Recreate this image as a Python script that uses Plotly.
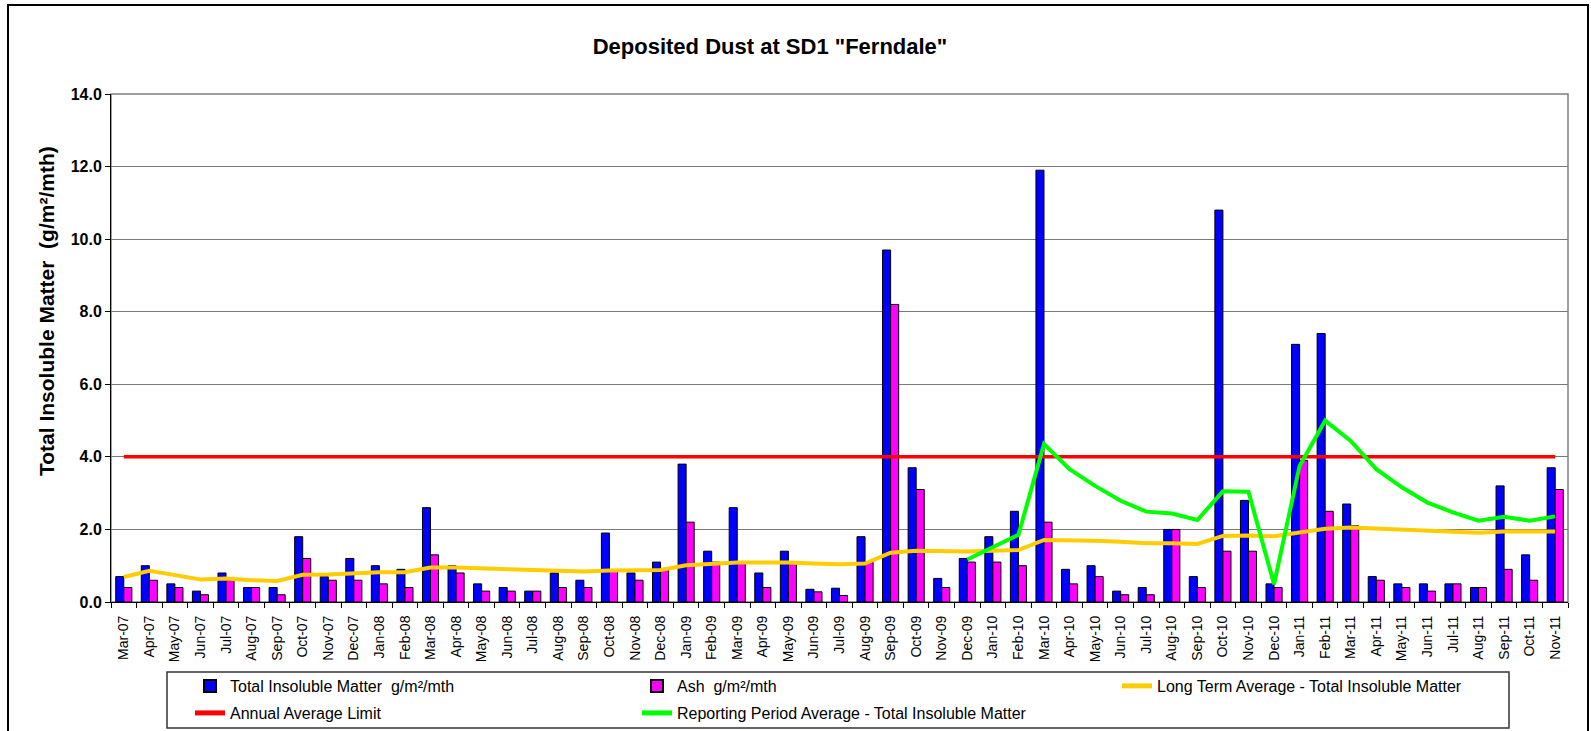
import plotly.graph_objects as go

months = ["Mar-07","Apr-07","May-07","Jun-07","Jul-07","Aug-07","Sep-07","Oct-07","Nov-07","Dec-07",
          "Jan-08","Feb-08","Mar-08","Apr-08","May-08","Jun-08","Jul-08","Aug-08","Sep-08","Oct-08","Nov-08","Dec-08",
          "Jan-09","Feb-09","Mar-09","Apr-09","May-09","Jun-09","Jul-09","Aug-09","Sep-09","Oct-09","Nov-09","Dec-09",
          "Jan-10","Feb-10","Mar-10","Apr-10","May-10","Jun-10","Jul-10","Aug-10","Sep-10","Oct-10","Nov-10","Dec-10",
          "Jan-11","Feb-11","Mar-11","Apr-11","May-11","Jun-11","Jul-11","Aug-11","Sep-11","Oct-11","Nov-11"]

total_insoluble = [0.7,1.0,0.5,0.3,0.8,0.4,0.4,1.8,0.7,1.2,
                   1.0,0.9,2.6,1.0,0.5,0.4,0.3,0.8,0.6,1.9,0.8,1.1,
                   3.8,1.4,2.6,0.8,1.4,0.35,0.38,1.8,9.7,3.7,0.65,1.2,
                   1.8,2.5,11.9,0.9,1.0,0.3,0.4,2.0,0.7,10.8,2.8,0.5,
                   7.1,7.4,2.7,0.7,0.5,0.5,0.5,0.4,3.2,1.3,3.7]

ash = [0.4,0.6,0.4,0.2,0.6,0.4,0.2,1.2,0.6,0.6,
       0.5,0.4,1.3,0.8,0.3,0.3,0.3,0.4,0.4,0.87,0.6,0.88,
       2.2,1.1,1.1,0.4,1.1,0.28,0.18,1.1,8.2,3.1,0.4,1.1,
       1.1,1.0,2.2,0.5,0.7,0.2,0.2,2.0,0.4,1.4,1.4,0.4,
       3.9,2.5,2.1,0.6,0.4,0.3,0.5,0.4,0.9,0.6,3.1]

long_term_avg = [0.69,0.86,0.74,0.62,0.65,0.6,0.58,0.75,0.76,0.8,
                 0.82,0.82,0.95,0.95,0.93,0.9,0.87,0.87,0.84,0.87,0.88,0.88,
                 1.01,1.04,1.09,1.09,1.09,1.06,1.04,1.06,1.36,1.41,1.39,1.39,
                 1.41,1.43,1.71,1.71,1.69,1.66,1.62,1.62,1.60,1.82,1.83,1.81,
                 1.91,2.02,2.05,2.02,2.0,1.97,1.94,1.91,1.94,1.93,1.94]

annual_limit = [4.0] * len(months)

reporting_months = ["Dec-09","Jan-10","Feb-10","Mar-10","Apr-10","May-10","Jun-10","Jul-10","Aug-10","Sep-10",
                    "Oct-10","Nov-10","Dec-10","Jan-11","Feb-11","Mar-11","Apr-11","May-11","Jun-11","Jul-11",
                    "Aug-11","Sep-11","Oct-11","Nov-11"]
reporting_avg = [1.17,1.5,1.85,4.35,3.66,3.2,2.79,2.49,2.44,2.26,
                 3.05,3.04,0.49,3.75,5.0,4.44,3.66,3.16,2.74,2.47,
                 2.24,2.35,2.24,2.36]

W, H = 1591, 731
L, R, T, B = 111, 1568, 94, 602
pw, ph = R - L, B - T


def px_x(v):
    return (v - L) / pw


def px_y(v):
    return (B - v) / ph


fig = go.Figure()
fig.add_trace(go.Bar(x=months, y=total_insoluble, name="Total Insoluble Matter\u00a0 g/m²/mth",
                     marker=dict(color="#0000FF", line=dict(color="#000000", width=1)), legend="legend"))
fig.add_trace(go.Bar(x=months, y=ash, name="Ash\u00a0 g/m²/mth",
                     marker=dict(color="#FF00FF", line=dict(color="#000000", width=1)), legend="legend2"))
fig.add_trace(go.Scatter(x=months, y=annual_limit, name="Annual Average Limit", mode="lines",
                         line=dict(color="#FF0000", width=3.5), legend="legend4"))
fig.add_trace(go.Scatter(x=months, y=long_term_avg, name="Long Term Average - Total Insoluble Matter",
                         mode="lines", line=dict(color="#FFCC00", width=4), legend="legend3"))
fig.add_trace(go.Scatter(x=reporting_months, y=reporting_avg,
                         name="Reporting Period Average - Total Insoluble Matter",
                         mode="lines", line=dict(color="#00FF00", width=4), legend="legend5"))


def leg(x_text, y_center):
    return dict(orientation="h", xref="container", yref="container", xanchor="left", yanchor="middle",
                x=(x_text - 41) / W, y=1 - y_center / H,
                borderwidth=0, bgcolor="rgba(0,0,0,0)", font=dict(size=16, color="black"),
                itemsizing="constant")


fig.update_layout(
    width=W, height=H,
    margin=dict(l=L, r=W - R, t=T, b=H - B, autoexpand=False),
    paper_bgcolor="white", plot_bgcolor="white",
    font=dict(family="Liberation Sans, Arial, sans-serif", color="black"),
    title=dict(text='<b>Deposited Dust at SD1 "Ferndale"</b>', x=770 / W, xref="container", xanchor="center",
               y=1 - 46 / H, yref="container", yanchor="middle", font=dict(size=22, color="black")),
    barmode="group", bargap=0.37, bargroupgap=0,
    showlegend=True,
    legend=leg(231, 686),
    legend2=leg(678, 686),
    legend3=leg(1158, 686),
    legend4=leg(231, 713),
    legend5=leg(678, 713),
    xaxis=dict(type="category", categoryorder="array", categoryarray=months, automargin=False,
               tickangle=-90, tickfont=dict(size=14, color="black"), ticklabelstandoff=7,
               showline=True, linecolor="black", linewidth=1,
               ticks="outside", tickson="boundaries", ticklen=5, tickcolor="black",
               showgrid=False),
    yaxis=dict(range=[0, 14], dtick=2, tickformat=".1f", automargin=False,
               tickfont=dict(size=16, color="black", weight="bold"),
               showline=True, linecolor="black", linewidth=1,
               ticks="outside", ticklen=5, tickcolor="black",
               showgrid=True, gridcolor="#7a7a7a", gridwidth=1, zeroline=False),
    annotations=[
        dict(text="<b>Total Insoluble Matter\u00a0 (g/m²/mth)</b>", textangle=-90,
             xref="paper", yref="paper", x=px_x(46), y=px_y(311), xanchor="center", yanchor="middle",
             showarrow=False, font=dict(size=21, color="black")),
    ],
    shapes=[
        dict(type="rect", xref="paper", yref="paper", x0=0, x1=1, y0=0, y1=1,
             line=dict(color="#808080", width=1.5), layer="below"),
        dict(type="rect", xref="paper", yref="paper", x0=px_x(8), x1=px_x(1588),
             y0=px_y(760), y1=px_y(5), line=dict(color="black", width=2), layer="below"),
        dict(type="rect", xref="paper", yref="paper", x0=px_x(167), x1=px_x(1509),
             y0=px_y(728), y1=px_y(672), line=dict(color="#333333", width=1.5),
             fillcolor="white", layer="below"),
    ],
)

fig.write_html("out.html", config={"displayModeBar": False},
               post_script="document.body.style.margin='0';document.body.style.overflow='hidden';")
